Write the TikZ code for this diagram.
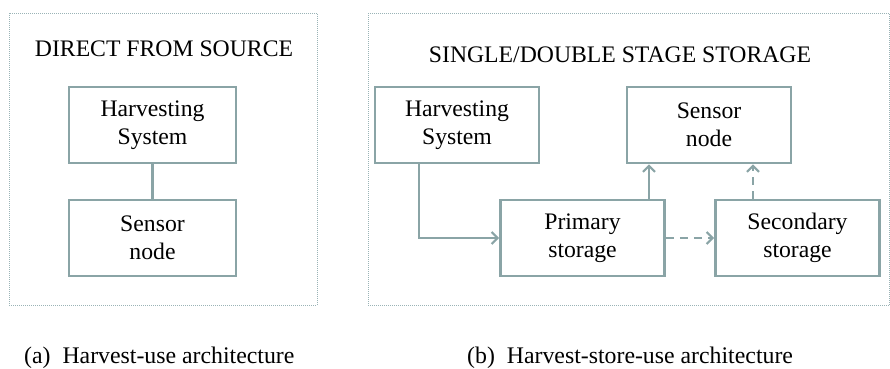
\documentclass[tikz,border=0pt]{standalone}
\usepackage{fontspec}
\setmainfont{Liberation Serif}
\usetikzlibrary{arrows.meta}
\definecolor{boxline}{HTML}{8AA4A6}
\definecolor{frameline}{HTML}{9AB3B6}
\tikzset{
  boxnode/.style={draw=boxline, line width=2.6pt, minimum height=76pt, inner sep=2pt,
    align=center, font=\fontsize{23.7}{28}\selectfont},
  wide/.style={minimum width=167pt},
  narrow/.style={minimum width=164pt},
  panel/.style={draw=frameline, line width=0.8pt, dash pattern=on 1pt off 1pt},
  titletext/.style={anchor=base, font=\fontsize{23.7}{28}\selectfont},
  captext/.style={anchor=base west, font=\fontsize{23.8}{27}\selectfont, inner sep=0pt},
  link/.style={draw=boxline, line width=2.6pt},
  flow/.style={link, -{Straight Barb[length=6pt,width=12pt,line width=2.2pt]}},
  optflow/.style={flow, dash pattern=on 8pt off 6pt}
}
\begin{document}
\begin{tikzpicture}[x=1pt, y=-1pt]
  \useasboundingbox (0,0) rectangle (890,368);

  % panel frames
  \draw[panel] (9,13) rectangle (317,305);
  \draw[panel] (368,13) rectangle (889.5,305);

  % (a) harvest-use
  \node[titletext] (ta) at (164,56) {DIRECT FROM SOURCE};
  \node[boxnode, wide] (lh) at (152.5,125) {Harvesting\\System};
  \node[boxnode, wide] (ls) at (152.5,238) {Sensor\\node};
  \draw[link] (lh) -- (ls);

  % (b) harvest-store-use
  \node[titletext] (tb) at (620,62) {SINGLE/DOUBLE STAGE STORAGE};
  \node[boxnode, narrow] (rh) at (457,125) {Harvesting\\System};
  \node[boxnode, narrow] (rs) at (709,125) {Sensor\\node};
  \node[boxnode, narrow] (ps) at (582.5,238) {Primary\\storage};
  \node[boxnode, narrow] (ss) at (797.5,238) {Secondary\\storage};

  \draw[flow] ([xshift=-38pt]rh.south) |- (ps.west);
  \draw[flow] ([xshift=66.5pt]ps.north) coordinate (pu) -- (pu |- rs.south);
  \draw[optflow] (ps.east) -- (ss.west);
  \draw[optflow] ([xshift=-44.5pt]ss.north) coordinate (su) -- (su |- rs.south);

  % sub-captions
  \node[captext] (ca) at (24,363) {(a)\hspace{0.5em}Harvest-use architecture};
  \node[captext] (cb) at (467,363) {(b)\hspace{0.5em}Harvest-store-use architecture};
\end{tikzpicture}
\end{document}
